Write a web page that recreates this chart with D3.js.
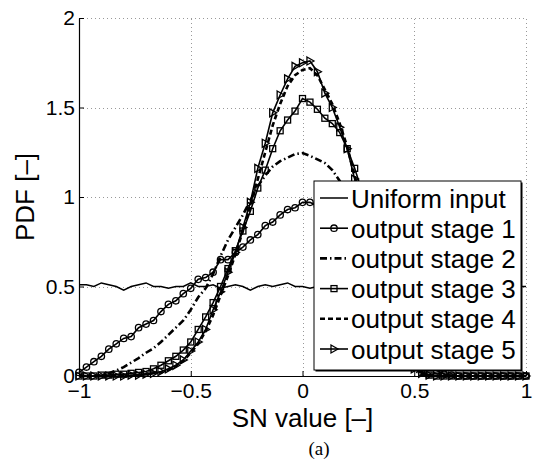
<!DOCTYPE html>
<html>
<head>
<meta charset="utf-8">
<script src="https://cdn.jsdelivr.net/npm/d3@7"></script>
<style>
  body { margin: 0; background: #fff; }
  svg text { font-family: "Liberation Sans", Arial, sans-serif; }
</style>
</head>
<body>
<div id="chart"></div>
<script>
// x grid: -1 .. 1 in steps of 1/30 (61 points)
var xs = d3.range(61).map(function (k) { return -1 + k / 30; });

var uniformInput = [0.51,0.51,0.50,0.52,0.51,0.50,0.48,0.50,0.51,0.52,0.50,0.50,0.49,0.50,0.50,0.52,0.50,0.50,0.51,0.49,0.50,0.51,0.50,0.48,0.50,0.51,0.50,0.51,0.52,0.50,0.50,0.49,0.50,0.51,0.50,0.49,0.51,0.50,0.50,0.52,0.50,0.49,0.50,0.51,0.50,0.50,0.52,0.49,0.50,0.51,0.50,0.49,0.51,0.50,0.50,0.51,0.49,0.50,0.51,0.50,0.50];

var stage1 = [0.02,0.05,0.08,0.11,0.15,0.18,0.21,0.22,0.27,0.29,0.31,0.36,0.40,0.42,0.46,0.49,0.54,0.55,0.58,0.65,0.65,0.69,0.72,0.76,0.79,0.84,0.86,0.90,0.93,0.94,0.97,0.97,0.95,0.92,0.88,0.83,0.78,0.72,0.65,0.58,0.50,0.42,0.34,0.27,0.20,0.14,0.09,0.05,0.03,0.01,0.005,0,0,0,0,0,0,0,0,0,0];

var stage2 = [0,0,0,0.005,0.015,0.03,0.05,0.075,0.10,0.13,0.155,0.19,0.23,0.27,0.31,0.37,0.44,0.49,0.57,0.67,0.76,0.83,0.90,0.98,1.06,1.12,1.17,1.20,1.22,1.24,1.245,1.23,1.21,1.19,1.15,1.09,1.00,0.88,0.74,0.60,0.46,0.33,0.22,0.13,0.07,0.03,0.01,0,0,0,0,0,0,0,0,0,0,0,0,0,0];

var stage3 = [0,0,0,0.005,0.005,0.01,0.01,0.015,0.02,0.025,0.04,0.06,0.085,0.11,0.145,0.19,0.26,0.33,0.41,0.50,0.60,0.70,0.81,0.92,1.05,1.15,1.27,1.37,1.43,1.48,1.55,1.53,1.49,1.44,1.41,1.36,1.27,1.16,1.03,0.85,0.68,0.50,0.34,0.21,0.11,0.05,0.02,0.005,0,0,0,0,0,0,0,0,0,0,0,0,0];

var stage4 = [0,0,0,0,0,0,0,0,0.005,0.01,0.015,0.02,0.035,0.055,0.085,0.13,0.18,0.25,0.34,0.45,0.56,0.68,0.81,0.95,1.10,1.25,1.40,1.52,1.62,1.68,1.71,1.72,1.68,1.60,1.52,1.41,1.28,1.12,0.95,0.76,0.58,0.42,0.28,0.17,0.09,0.045,0.02,0.005,0,0,0,0,0,0,0,0,0,0,0,0,0];

var stage5 = [0,0,0,0,0,0,0,0.005,0.005,0.01,0.015,0.025,0.04,0.06,0.09,0.14,0.19,0.26,0.37,0.47,0.58,0.69,0.83,0.97,1.16,1.30,1.47,1.57,1.66,1.73,1.75,1.76,1.70,1.58,1.50,1.39,1.27,1.10,0.92,0.74,0.56,0.40,0.26,0.15,0.08,0.04,0.015,0.005,0,0,0,0,0,0,0,0,0,0,0,0,0];

var xTicks = [-1, -0.5, 0, 0.5, 1];
var yTicks = [0, 0.5, 1, 1.5, 2];
var legendLabels = ["Uniform input", "output stage 1", "output stage 2", "output stage 3", "output stage 4", "output stage 5"];

var W = 536, H = 461;
var margin = {left: 79, top: 18, right: 10, bottom: 85};
var pw = W - margin.left - margin.right, ph = H - margin.top - margin.bottom;

var svg = d3.select("#chart").append("svg")
    .attr("width", W).attr("height", H);

var x = d3.scaleLinear().domain([-1, 1]).range([margin.left, margin.left + pw]);
var y = d3.scaleLinear().domain([0, 2]).range([margin.top + ph, margin.top]);

// grid
var grid = svg.append("g").attr("stroke", "#999").attr("stroke-width", 1)
    .attr("stroke-dasharray", "1,3");
grid.selectAll(".gx").data(xTicks).enter().append("line")
    .attr("x1", function (d) { return Math.round(x(d)) + 0.5; })
    .attr("x2", function (d) { return Math.round(x(d)) + 0.5; })
    .attr("y1", y(0)).attr("y2", y(2));
grid.selectAll(".gy").data(yTicks).enter().append("line")
    .attr("y1", function (d) { return Math.round(y(d)) + 0.5; })
    .attr("y2", function (d) { return Math.round(y(d)) + 0.5; })
    .attr("x1", x(-1)).attr("x2", x(1));

// axes
var xAxis = d3.axisBottom(x).tickValues(xTicks).tickSizeInner(-5).tickSizeOuter(0).tickPadding(7)
    .tickFormat(function (d) { return d < 0 ? "\u2212" + Math.abs(d) : String(d); });
var yAxis = d3.axisLeft(y).tickValues(yTicks).tickSizeInner(-5).tickSizeOuter(0).tickPadding(4)
    .tickFormat(function (d) { return String(d); });

var gx = svg.append("g").attr("transform", "translate(0," + y(0) + ")").call(xAxis);
var gy = svg.append("g").attr("transform", "translate(" + x(-1) + ",0)").call(yAxis);
[gx, gy].forEach(function (g) {
    g.selectAll("text").style("font-size", "21px").attr("fill", "#000");
    g.selectAll("line").attr("stroke", "#000");
    g.select(".domain").attr("stroke", "#000").attr("stroke-width", 1.2);
});

// series
var series = [
    {vals: uniformInput, dash: null, width: 1.5, marker: null},
    {vals: stage1, dash: null, width: 1.6, marker: "circle"},
    {vals: stage2, dash: "7,3,1.5,3", width: 2.6, marker: null},
    {vals: stage3, dash: null, width: 1.6, marker: "square"},
    {vals: stage4, dash: "5,3", width: 2.6, marker: null},
    {vals: stage5, dash: null, width: 1.6, marker: "triangle"}
];

var line = d3.line()
    .x(function (d) { return x(d[0]); })
    .y(function (d) { return y(d[1]); });

function drawMarker(g, type, cx, cy) {
    if (type === "circle") {
        g.append("circle").attr("cx", cx).attr("cy", cy).attr("r", 3.2)
            .attr("fill", "none").attr("stroke", "#000").attr("stroke-width", 1.3);
    } else if (type === "square") {
        g.append("rect").attr("x", cx - 3).attr("y", cy - 3).attr("width", 6).attr("height", 6)
            .attr("fill", "none").attr("stroke", "#000").attr("stroke-width", 1.3);
    } else if (type === "triangle") {
        g.append("path").attr("d", "M" + (cx - 3) + "," + (cy - 4) + "L" + (cx + 4) + "," + cy + "L" + (cx - 3) + "," + (cy + 4) + "Z")
            .attr("fill", "none").attr("stroke", "#000").attr("stroke-width", 1.3);
    }
}

var plot = svg.append("g");
series.forEach(function (s) {
    var pts = xs.map(function (xv, i) { return [xv, s.vals[i]]; });
    plot.append("path").datum(pts)
        .attr("d", line)
        .attr("fill", "none")
        .attr("stroke", "#000")
        .attr("stroke-width", s.width)
        .attr("stroke-dasharray", s.dash);
    if (s.marker) {
        var mg = plot.append("g");
        pts.forEach(function (p) { drawMarker(mg, s.marker, x(p[0]), y(p[1])); });
    }
});

// legend
var lx = 314, ly = 181, lw = 207, lh = 189;
svg.append("rect").attr("x", lx + 1.5).attr("y", ly + 1.5).attr("width", lw).attr("height", lh)
    .attr("fill", "#000");
svg.append("rect").attr("x", lx).attr("y", ly).attr("width", lw).attr("height", lh)
    .attr("fill", "#fff").attr("stroke", "#000").attr("stroke-width", 1);

var leg = svg.append("g");
legendLabels.forEach(function (lab, i) {
    var cy = ly + 17 + i * 30.2;
    var s = series[i];
    leg.append("line").attr("x1", lx + 6).attr("x2", lx + 34).attr("y1", cy).attr("y2", cy)
        .attr("stroke", "#000").attr("stroke-width", s.width).attr("stroke-dasharray", s.dash);
    if (s.marker) drawMarker(leg, s.marker, lx + 20, cy);
    leg.append("text").attr("x", lx + 37).attr("y", cy + 9.5)
        .style("font-size", "26px").attr("fill", "#000").text(lab);
});

// axis labels
svg.append("text").attr("x", x(0)).attr("y", 427)
    .attr("text-anchor", "middle").style("font-size", "26px").text("SN value [\u2013]");
svg.append("text").attr("transform", "translate(34," + y(1) + ") rotate(-90)")
    .attr("text-anchor", "middle").style("font-size", "26px").text("PDF [\u2013]");

svg.append("text").attr("x", 319).attr("y", 455)
    .attr("text-anchor", "middle")
    .style("font-family", "'Liberation Serif', 'Times New Roman', serif")
    .style("font-size", "19px").text("(a)");
</script>
</body>
</html>
